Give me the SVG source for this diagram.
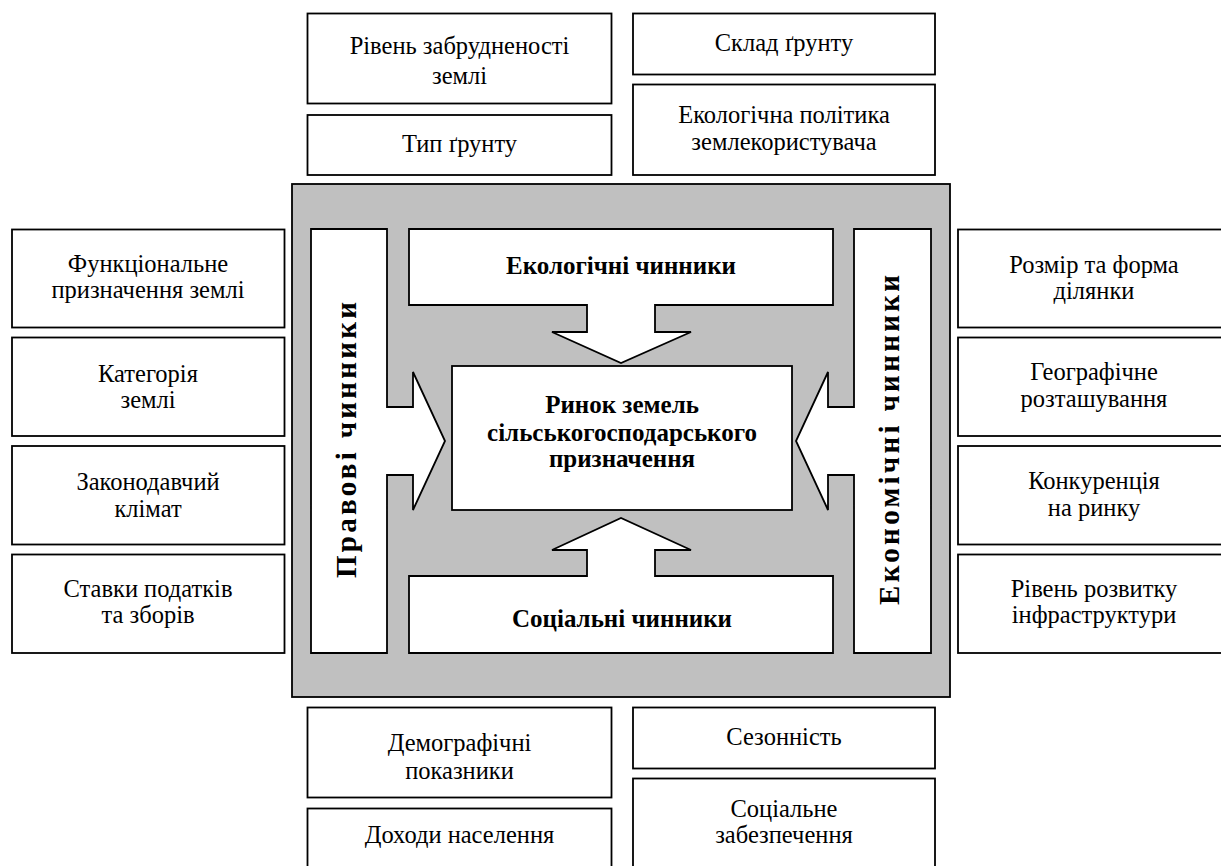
<svg xmlns="http://www.w3.org/2000/svg" width="1221" height="866" viewBox="0 0 1221 866">
<style>
  .box { fill: #ffffff; stroke: #000000; stroke-width: 1.8; }
  .panel { fill: #c0c0c0; stroke: #000000; stroke-width: 1.8; }
  .t { font-family: "Liberation Serif", "DejaVu Serif", serif; font-size: 24.5px; fill: #000000; text-anchor: middle; }
  .b { font-family: "Liberation Serif", "DejaVu Serif", serif; font-size: 25px; font-weight: bold; fill: #000000; text-anchor: middle; }
  .v { font-family: "Liberation Serif", "DejaVu Serif", serif; font-size: 29px; font-weight: bold; fill: #000000; text-anchor: middle; }
</style>
<rect x="0" y="0" width="1221" height="866" fill="#ffffff"/>

<!-- top boxes -->
<g id="n-riven-zabrud"><rect class="box" x="307.5" y="13.5" width="304" height="90"/><text class="t" x="459.5" y="54">Рівень забрудненості</text><text class="t" x="459.5" y="84">землі</text></g>
<g id="n-typ-gruntu"><rect class="box" x="307.5" y="115" width="304" height="60"/><text class="t" x="459.5" y="152">Тип ґрунту</text></g>
<g id="n-sklad-gruntu"><rect class="box" x="633" y="13.5" width="302" height="61"/><text class="t" x="784" y="51">Склад ґрунту</text></g>
<g id="n-ekol-polityka"><rect class="box" x="633" y="84.5" width="302" height="90.5"/><text class="t" x="784" y="123">Екологічна політика</text><text class="t" x="784" y="150">землекористувача</text></g>

<!-- left boxes -->
<g id="n-funktsionalne"><rect class="box" x="12" y="229.5" width="272.5" height="98"/><text class="t" x="148" y="272">Функціональне</text><text class="t" x="148" y="298">призначення землі</text></g>
<g id="n-katehoriia"><rect class="box" x="12" y="337.5" width="272.5" height="98.5"/><text class="t" x="148" y="382">Категорія</text><text class="t" x="148" y="408">землі</text></g>
<g id="n-zakonodavchyi"><rect class="box" x="12" y="446" width="272.5" height="98.5"/><text class="t" x="148" y="490">Законодавчий</text><text class="t" x="148" y="517">клімат</text></g>
<g id="n-stavky"><rect class="box" x="12" y="554.5" width="272.5" height="98.5"/><text class="t" x="148" y="597">Ставки податків</text><text class="t" x="148" y="623">та зборів</text></g>

<!-- right boxes -->
<g id="n-rozmir"><rect class="box" x="958" y="229.5" width="273" height="98"/><text class="t" x="1094" y="273">Розмір та форма</text><text class="t" x="1094" y="299">ділянки</text></g>
<g id="n-heohrafichne"><rect class="box" x="958" y="337.5" width="273" height="98.5"/><text class="t" x="1094" y="380">Географічне</text><text class="t" x="1094" y="407">розташування</text></g>
<g id="n-konkurentsiia"><rect class="box" x="958" y="446" width="273" height="98.5"/><text class="t" x="1094" y="489">Конкуренція</text><text class="t" x="1094" y="516">на ринку</text></g>
<g id="n-infrastruktura"><rect class="box" x="958" y="554.5" width="273" height="98.5"/><text class="t" x="1094" y="597">Рівень розвитку</text><text class="t" x="1094" y="623">інфраструктури</text></g>

<!-- bottom boxes -->
<g id="n-demohrafichni"><rect class="box" x="307.5" y="707.5" width="304" height="90"/><text class="t" x="459.5" y="751">Демографічні</text><text class="t" x="459.5" y="779">показники</text></g>
<g id="n-dokhody"><rect class="box" x="307.5" y="808.5" width="304" height="62"/><text class="t" x="459.5" y="843">Доходи населення</text></g>
<g id="n-sezonnist"><rect class="box" x="633" y="707.5" width="302" height="61"/><text class="t" x="784" y="745">Сезонність</text></g>
<g id="n-sotsialne"><rect class="box" x="633" y="778.5" width="302" height="92"/><text class="t" x="784" y="817">Соціальне</text><text class="t" x="784" y="843">забезпечення</text></g>

<!-- central panel -->
<g id="panel"><rect class="panel" x="292" y="184" width="658" height="513"/></g>

<g id="n-ekolohichni">
  <path class="box" d="M409,229 L833,229 L833,305 L655,305 L655,332 L691,332 L621,363 L552,332 L587,332 L587,305 L409,305 Z"/>
  <text class="b" x="621" y="274">Екологічні чинники</text>
</g>
<g id="n-pravovi">
  <path class="box" d="M311,229 L387,229 L387,407 L413,407 L413,372 L445,441 L413,510 L413,475 L387,475 L387,653 L311,653 Z"/>
  <text class="v" transform="translate(356,440) rotate(-90)" textLength="276" lengthAdjust="spacing">Правові чинники</text>
</g>
<g id="n-ekonomichni">
  <path class="box" d="M854,229 L931,229 L931,653 L854,653 L854,475 L828,475 L828,510 L796,441 L828,372 L828,407 L854,407 Z"/>
  <text class="v" transform="translate(899,440) rotate(-90)" textLength="330" lengthAdjust="spacing">Економічні чинники</text>
</g>
<g id="n-sotsialni">
  <path class="box" d="M409,576 L587,576 L587,550 L552,550 L621,518 L691,550 L655,550 L655,576 L833,576 L833,653 L409,653 Z"/>
  <text class="b" x="622" y="627">Соціальні чинники</text>
</g>
<g id="n-rynok">
  <rect class="box" x="452" y="366" width="340" height="144"/>
  <text class="b" x="622" y="413">Ринок земель</text>
  <text class="b" x="622" y="441">сільськогосподарського</text>
  <text class="b" x="622" y="467">призначення</text>
</g>

<g id="connectors"></g>
</svg>
